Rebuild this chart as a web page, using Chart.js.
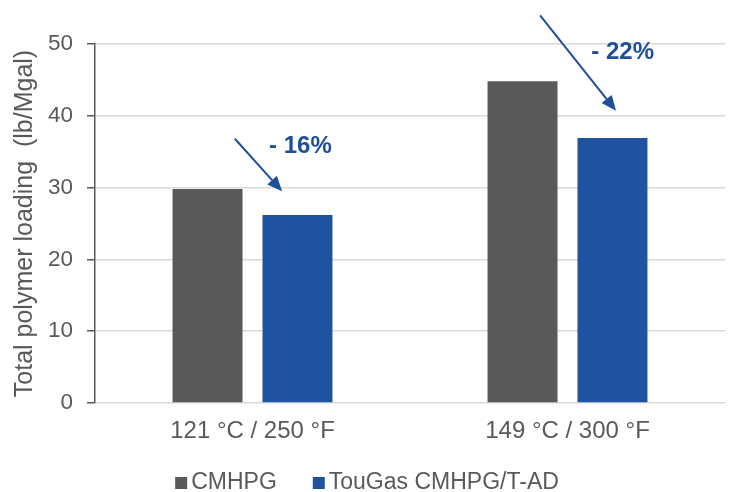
<!DOCTYPE html>
<html><head><meta charset="utf-8">
<script src="https://cdn.jsdelivr.net/npm/chart.js@4.4.0/dist/chart.umd.min.js"></script>
<style>html,body{margin:0;padding:0;background:#fff}#wrap{width:731px;height:492px;position:relative}</style>
</head><body><div id="wrap"><canvas id="c"></canvas></div>
<script>
const categories = ['121 °C / 250 °F', '149 °C / 300 °F'];
const seriesNames = ['CMHPG', 'TouGas CMHPG/T-AD'];
const cmhpg = [29.8, 44.8];
const tougas = [26.2, 36.9];
const yTicks = [0, 10, 20, 30, 40, 50];
const reductionLabels = ['- 16%', '- 22%'];
// annotation anchors: [category index, offset in category widths, value]
const arrowFrom = [[0, -0.056, 36.8], [1, -0.087, 54.0]];
const arrowTo = [[0, 0.094, 29.5], [1, 0.154, 40.7]];
const labelAt = [[0, 0.152, 35.8], [1, 0.175, 48.9]];

const FAMILY = '"Liberation Sans", Arial, sans-serif';
const TXT = '#595959';
const GREY = '#595959';
const BLUE = '#1F53A0';
const ARROW = '#1F4E9A';

const annot = {
  id: 'annot',
  afterDraw(chart) {
    const { ctx, scales: { x, y } } = chart;
    const cw = x.width / categories.length;
    const px = p => x.getPixelForValue(p[0]) + p[1] * cw;
    const py = p => y.getPixelForValue(p[2]);
    ctx.save();
    ctx.strokeStyle = ARROW; ctx.fillStyle = ARROW;
    ctx.lineWidth = 2;
    arrowFrom.forEach((f, i) => {
      const t = arrowTo[i];
      const x0 = px(f), y0 = py(f), x1 = px(t), y1 = py(t);
      const ang = Math.atan2(y1 - y0, x1 - x0);
      const hl = 15, hw = 6.5;
      const bx = x1 - hl * Math.cos(ang), by = y1 - hl * Math.sin(ang);
      ctx.beginPath(); ctx.moveTo(x0, y0); ctx.lineTo(bx, by); ctx.stroke();
      ctx.beginPath(); ctx.moveTo(x1, y1);
      ctx.lineTo(bx + hw * Math.sin(ang), by - hw * Math.cos(ang));
      ctx.lineTo(bx - hw * Math.sin(ang), by + hw * Math.cos(ang));
      ctx.closePath(); ctx.fill();
    });
    ctx.font = 'bold 24px ' + FAMILY;
    ctx.textAlign = 'center'; ctx.textBaseline = 'middle';
    labelAt.forEach((p, i) => ctx.fillText(reductionLabels[i], px(p), py(p)));

    // legend
    ctx.font = '23px ' + FAMILY;
    ctx.textAlign = 'left';
    const box = 12, gap = 4, itemGap = 36;
    const ds = chart.data.datasets;
    const widths = ds.map(d => box + gap + ctx.measureText(d.label).width);
    const total = widths.reduce((a, b) => a + b, 0) + itemGap * (widths.length - 1);
    let lx = 367 - total / 2;
    const ly = 483;
    ds.forEach((d, i) => {
      ctx.fillStyle = d.backgroundColor;
      ctx.fillRect(lx, ly - 6, box, box);
      ctx.fillStyle = TXT;
      ctx.fillText(d.label, lx + box + gap, ly);
      lx += widths[i] + itemGap;
    });
    ctx.restore();
  }
};

new Chart(document.getElementById('c'), {
  type: 'bar',
  data: {
    labels: categories,
    datasets: [
      { label: seriesNames[0], data: cmhpg, backgroundColor: GREY, categoryPercentage: 0.571, barPercentage: 0.778 },
      { label: seriesNames[1], data: tougas, backgroundColor: BLUE, categoryPercentage: 0.571, barPercentage: 0.778 }
    ]
  },
  options: {
    responsive: true, maintainAspectRatio: false, animation: false,
    layout: { padding: { left: 0, right: 6, top: 44, bottom: 38 } },
    plugins: { legend: { display: false }, tooltip: { enabled: false } },
    scales: {
      x: {
        grid: { display: false, drawTicks: false },
        border: { display: false },
        ticks: { color: TXT, font: { size: 24, family: FAMILY }, padding: 14 },
        afterFit(s) { s.height = 51; }
      },
      y: {
        min: 0, max: 50,
        afterBuildTicks(s) { s.ticks = yTicks.map(v => ({ value: v })); },
        ticks: { color: TXT, font: { size: 22.5, family: FAMILY }, padding: 14 },
        grid: { color: '#d9d9d9', lineWidth: 1.5, tickColor: '#595959', tickLength: 8 },
        border: { color: '#595959', width: 1.5 },
        title: { display: true, text: 'Total polymer loading  (lb/Mgal)', color: TXT, font: { size: 25, family: FAMILY }, padding: { top: 10, bottom: 0 } },
        afterFit(s) { s.width = 95; }
      }
    }
  },
  plugins: [annot]
});
</script>
</body></html>
